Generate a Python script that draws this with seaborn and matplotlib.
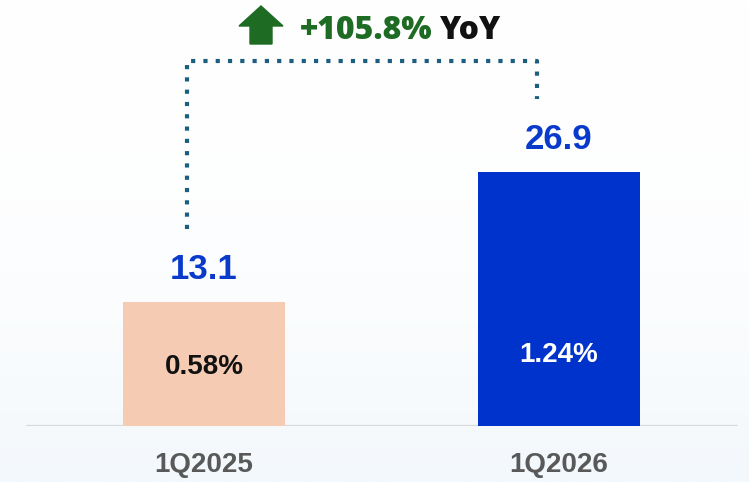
import numpy as np
import pandas as pd
import seaborn as sns
import matplotlib.pyplot as plt
from matplotlib.patches import Polygon

# data
quarters = ['1Q2025', '1Q2026']
values = [13.1, 26.9]
ratio_labels = ['0.58%', '1.24%']
bar_colors = ['#F5CBB3', '#0033CC']
inner_text_colors = ['#111111', '#FFFFFF']
yoy_label = '+105.8%'

df = pd.DataFrame({'quarter': quarters, 'value': values})

sns.set_theme(style='white')
plt.rcParams['font.family'] = ['Liberation Sans', 'DejaVu Sans']

W, H = 749, 482
fig = plt.figure(figsize=(W / 100, H / 100), dpi=100)

# soft gradient background
bg = fig.add_axes([0, 0, 1, 1], zorder=-2)
grad = np.linspace(0, 1, 256) ** 2.2
top = np.array([1.0, 1.0, 1.0])
bot = np.array([0xF3, 0xF8, 0xFC]) / 255
img = top[None, :] * (1 - grad[:, None]) + bot[None, :] * grad[:, None]
bg.imshow(img[:, None, :], aspect='auto', extent=[0, 1, 0, 1])
bg.axis('off')

# main chart: baseline at y=425.5px, 9.43 px per unit
base_px = 425.5
px_per_unit = 9.43
ax = fig.add_axes([0, (H - base_px) / H, 1, base_px / H])
ax.set_facecolor('none')
sns.barplot(data=df, x='quarter', y='value', hue='quarter', palette=bar_colors,
            width=0.456, saturation=1, legend=False, linewidth=0, ax=ax, zorder=2)
ax.set_xlim(-204 / 355, (W - 204) / 355)
ax.set_ylim(0, base_px / px_per_unit)
for s in ax.spines.values():
    s.set_visible(False)
ax.set_yticks([])
ax.set_xlabel('')
ax.set_ylabel('')
ax.tick_params(axis='x', length=0, pad=19)
for lbl in ax.get_xticklabels():
    lbl.set_fontsize(20)
    lbl.set_fontweight('bold')
    lbl.set_color('#595959')
ax.axhline(0, xmin=27 / W, xmax=737 / W, color='#D6DADF', lw=1.6, zorder=1)

for i, v in enumerate(values):
    ax.text(i, v + 2.4, f'{v:.1f}', ha='center', va='baseline', fontsize=25,
            fontweight='bold', color='#0A3ACC', zorder=3)
    ax.text(i, min(v / 2, 7.8), ratio_labels[i], ha='center', va='center_baseline',
            fontsize=20, fontweight='bold', color=inner_text_colors[i], zorder=3)

# dotted bracket between the two bars
bx = [0 - 0.048, 0 - 0.048, 1 - 0.062, 1 - 0.062]
by = [values[0] + 7.7, max(values) + 11.75, max(values) + 11.75, values[1] + 7.7]
ax.plot(bx, by, color='#1B5E80', lw=3.0, linestyle=(0, (1, 1.95)),
        dash_capstyle='butt', solid_joinstyle='miter', clip_on=False, zorder=3)

# header: arrow + YoY text (pixel overlay)
ov = fig.add_axes([0, 0, 1, 1])
ov.set_xlim(0, W)
ov.set_ylim(H, 0)
ov.axis('off')
ov.set_facecolor('none')
arrow = Polygon([(261, 6), (283, 26), (272, 26), (272, 44), (250, 44), (250, 26), (239, 26)],
                closed=True, color='#1E6B24')
ov.add_patch(arrow)
ov.text(300, 39, yoy_label, ha='left', va='baseline', fontsize=23,
        fontweight='heavy', family=['Open Sans', 'DejaVu Sans'], color='#1E6B24')
ov.text(439, 39, 'YoY', ha='left', va='baseline', fontsize=23,
        fontweight='heavy', family=['Open Sans', 'DejaVu Sans'], color='#111111')

fig.savefig('out.png', dpi=100)
